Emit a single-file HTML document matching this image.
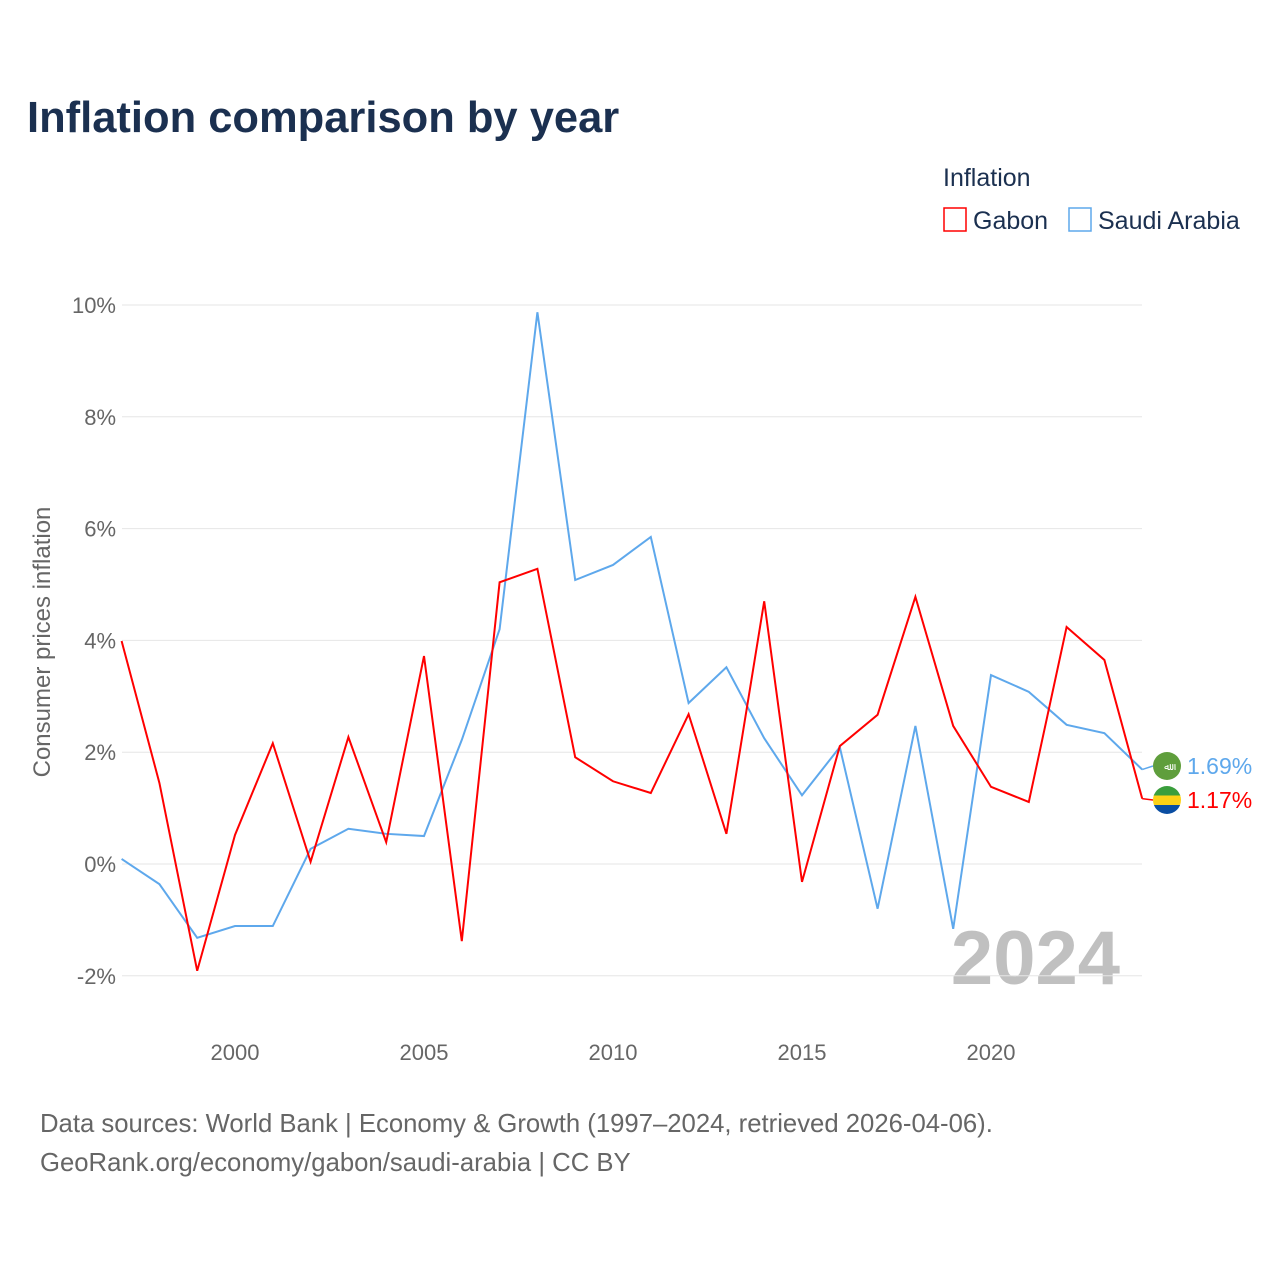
<!DOCTYPE html>
<html><head><meta charset="utf-8"><style>
body{margin:0;width:1280px;height:1280px;background:#fff;font-family:"Liberation Sans","Noto Sans CJK SC",sans-serif;overflow:hidden}
</style></head><body>
<svg id="chart" width="1280" height="1280" xmlns="http://www.w3.org/2000/svg" font-family="Liberation Sans, sans-serif">
<defs><clipPath id="gc"><circle cx="1167" cy="800" r="14"/></clipPath></defs>
<text x="27" y="132" font-size="43.5" font-weight="bold" fill="#1b3050">Inflation comparison by year</text>
<text x="943" y="186" font-size="25" fill="#1b3050">Inflation</text>
<g><rect x="944" y="208" width="22" height="23" fill="none" stroke="#ff0000" stroke-width="1.5"/><text x="973" y="229" font-size="25" fill="#1b3050">Gabon</text></g>
<g><rect x="1069" y="208" width="22" height="23" fill="none" stroke="#5ea8ec" stroke-width="1.5"/><text x="1098" y="229" font-size="25" fill="#1b3050">Saudi Arabia</text></g>
<text transform="translate(50,642) rotate(-90)" text-anchor="middle" font-size="24" fill="#666">Consumer prices inflation</text>
<text x="1120" y="984" text-anchor="end" font-size="76" font-weight="bold" fill="#c0c0c0">2024</text>
<g id="grid"></g><g id="series"></g>
<text x="40" y="1132" font-size="25.7" fill="#666">Data sources: World Bank | Economy &amp; Growth (1997–2024, retrieved 2026-04-06).</text>
<text x="40" y="1171" font-size="25.7" fill="#666">GeoRank.org/economy/gabon/saudi-arabia | CC BY</text>
</svg>
<script>
const years=[1997,1998,1999,2000,2001,2002,2003,2004,2005,2006,2007,2008,2009,2010,2011,2012,2013,2014,2015,2016,2017,2018,2019,2020,2021,2022,2023,2024];
const gabon=[3.99,1.45,-1.91,0.52,2.16,0.04,2.27,0.39,3.72,-1.38,5.04,5.28,1.91,1.48,1.27,2.68,0.54,4.70,-0.32,2.11,2.67,4.78,2.47,1.38,1.11,4.24,3.65,1.17];
const saudi=[0.09,-0.36,-1.32,-1.11,-1.11,0.27,0.63,0.54,0.50,2.22,4.20,9.87,5.08,5.35,5.85,2.88,3.52,2.25,1.23,2.09,-0.80,2.47,-1.16,3.38,3.08,2.49,2.34,1.69];
const yTicks=[-2,0,2,4,6,8,10];
const xTicks=[2000,2005,2010,2015,2020];
const NS="http://www.w3.org/2000/svg";
const x=v=>235+(v-2000)*37.8;
const y=v=>864-v*55.9;
const grid=document.getElementById('grid'),ser=document.getElementById('series');
function mk(tag,attrs,parent){const e=document.createElementNS(NS,tag);for(const k in attrs)e.setAttribute(k,attrs[k]);parent.appendChild(e);return e;}
yTicks.forEach(t=>{
  const l=mk('line',{x1:122,x2:1142,y1:y(t),y2:y(t),stroke:'#e6e6e6','stroke-width':1},grid);
  
  
  const tx=mk('text',{x:116,y:y(t)+8,'text-anchor':'end','font-size':22,fill:'#666'},grid);
  tx.textContent=t+'%';
  
  
});
xTicks.forEach(t=>{
  const tx=mk('text',{x:x(t),y:1060,'text-anchor':'middle','font-size':22,fill:'#666'},grid);
  tx.textContent=t;
  
  
});
function line(vals,color,name){
  const p=mk('polyline',{points:vals.map((v,i)=>x(years[i])+','+y(v)).join(' '),fill:'none',stroke:color,'stroke-width':2},ser);
  
  
}
line(saudi,'#5ea8ec','saudi-arabia-line');
line(gabon,'#ff0000','gabon-line');
function endLabel(v,color,name){
  const yy=y(v);
  const ly=name==='saudi'?Math.min(yy,766):Math.max(yy,800);
  const c=mk('line',{x1:x(2024),x2:1153,y1:yy,y2:ly,stroke:color,'stroke-width':1.5},ser);
  
  
  if(name==='saudi'){
    const f=mk('circle',{cx:1167,cy:ly,r:14,fill:'#5f9e3c'},ser);
    
    
    const s=mk('text',{x:1167,y:ly+4,'text-anchor':'middle','font-size':10,fill:'#fff'},ser);
    s.textContent='ﷲ';
  } else {
    const g=mk('g',{'clip-path':'url(#gc)'},ser);
    
    
    mk('rect',{x:1153,y:ly-14,width:28,height:10,fill:'#3a9e3c'},g);
    mk('rect',{x:1153,y:ly-4.5,width:28,height:9.5,fill:'#fcd116'},g);
    mk('rect',{x:1153,y:ly+5,width:28,height:10,fill:'#0a4ea2'},g);
  }
  const t=mk('text',{x:1187,y:ly+8,'font-size':23,fill:color},ser);
  t.textContent=v.toFixed(2)+'%';
  
  
}
endLabel(saudi[saudi.length-1],'#5ea8ec','saudi');
endLabel(gabon[gabon.length-1],'#ff0000','gabon');
</script>
</body></html>
